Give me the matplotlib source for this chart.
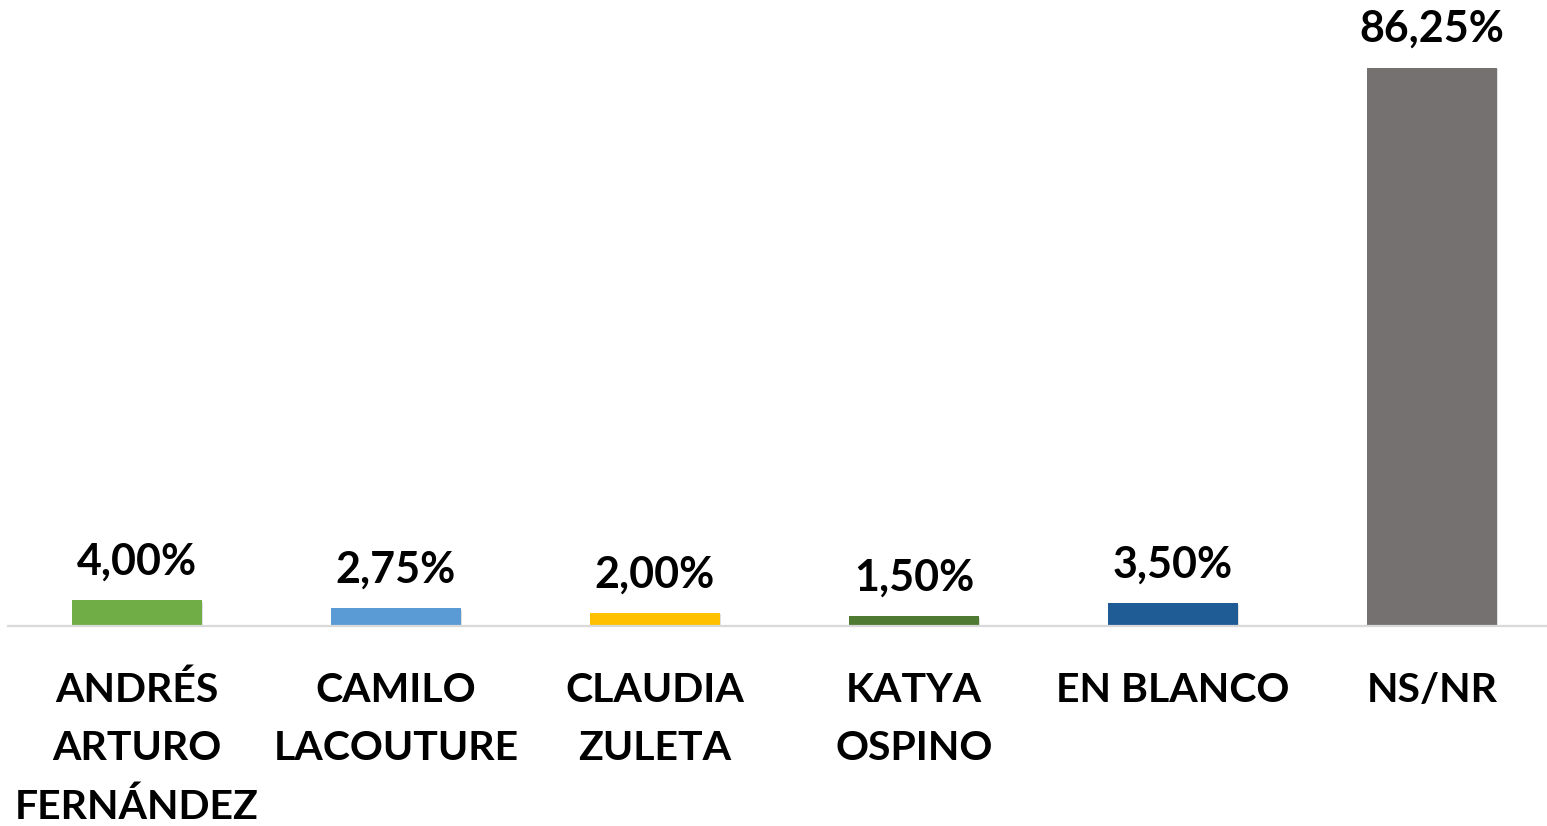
import matplotlib
matplotlib.use("Agg")
import matplotlib.pyplot as plt
import matplotlib.patheffects as pe

categories = ["ANDRÉS\nARTURO\nFERNÁNDEZ", "CAMILO\nLACOUTURE", "CLAUDIA\nZULETA",
              "KATYA\nOSPINO", "EN BLANCO", "NS/NR"]
values = [4.00, 2.75, 2.00, 1.50, 3.50, 86.25]
colors = ["#70AD47", "#5B9BD5", "#FFC000", "#4E7A32", "#1F5C96", "#767171"]

plt.rcParams["font.family"] = ["Lato", "DejaVu Sans"]

fig = plt.figure(figsize=(15.47, 8.26), dpi=100)
ax = fig.add_axes([8 / 1547, 1 - 626 / 826, 1 - 8 / 1547, 626 / 826])

x = list(range(len(values)))
bars = ax.bar(x, values, width=0.5, color=colors, zorder=3)
for b in bars:
    b.set_path_effects([pe.SimplePatchShadow(offset=(1, -1), shadow_rgbFace="#000000", alpha=0.12),
                        pe.Normal()])

for xi, v in zip(x, values):
    ax.annotate(f"{v:.2f}%".replace(".", ","), (xi, v), xytext=(0, 28),
                textcoords="offset points", ha="center", va="center",
                fontsize=31, fontweight="bold", color="black")

ax.set_xlim(-0.498, 5.444)
ax.set_ylim(0, 626 / (558 / 86.25))
ax.set_xticks(x)
ax.set_xticklabels(categories, fontsize=29.5, fontweight="bold", linespacing=1.7)
ax.tick_params(axis="x", length=0, pad=33)
ax.set_yticks([])
for s in ["top", "right", "left"]:
    ax.spines[s].set_visible(False)
ax.spines["bottom"].set_color("#D9D9D9")
ax.spines["bottom"].set_linewidth(1.6)
ax.spines["bottom"].set_zorder(4)

fig.savefig("out.png", dpi=100)
